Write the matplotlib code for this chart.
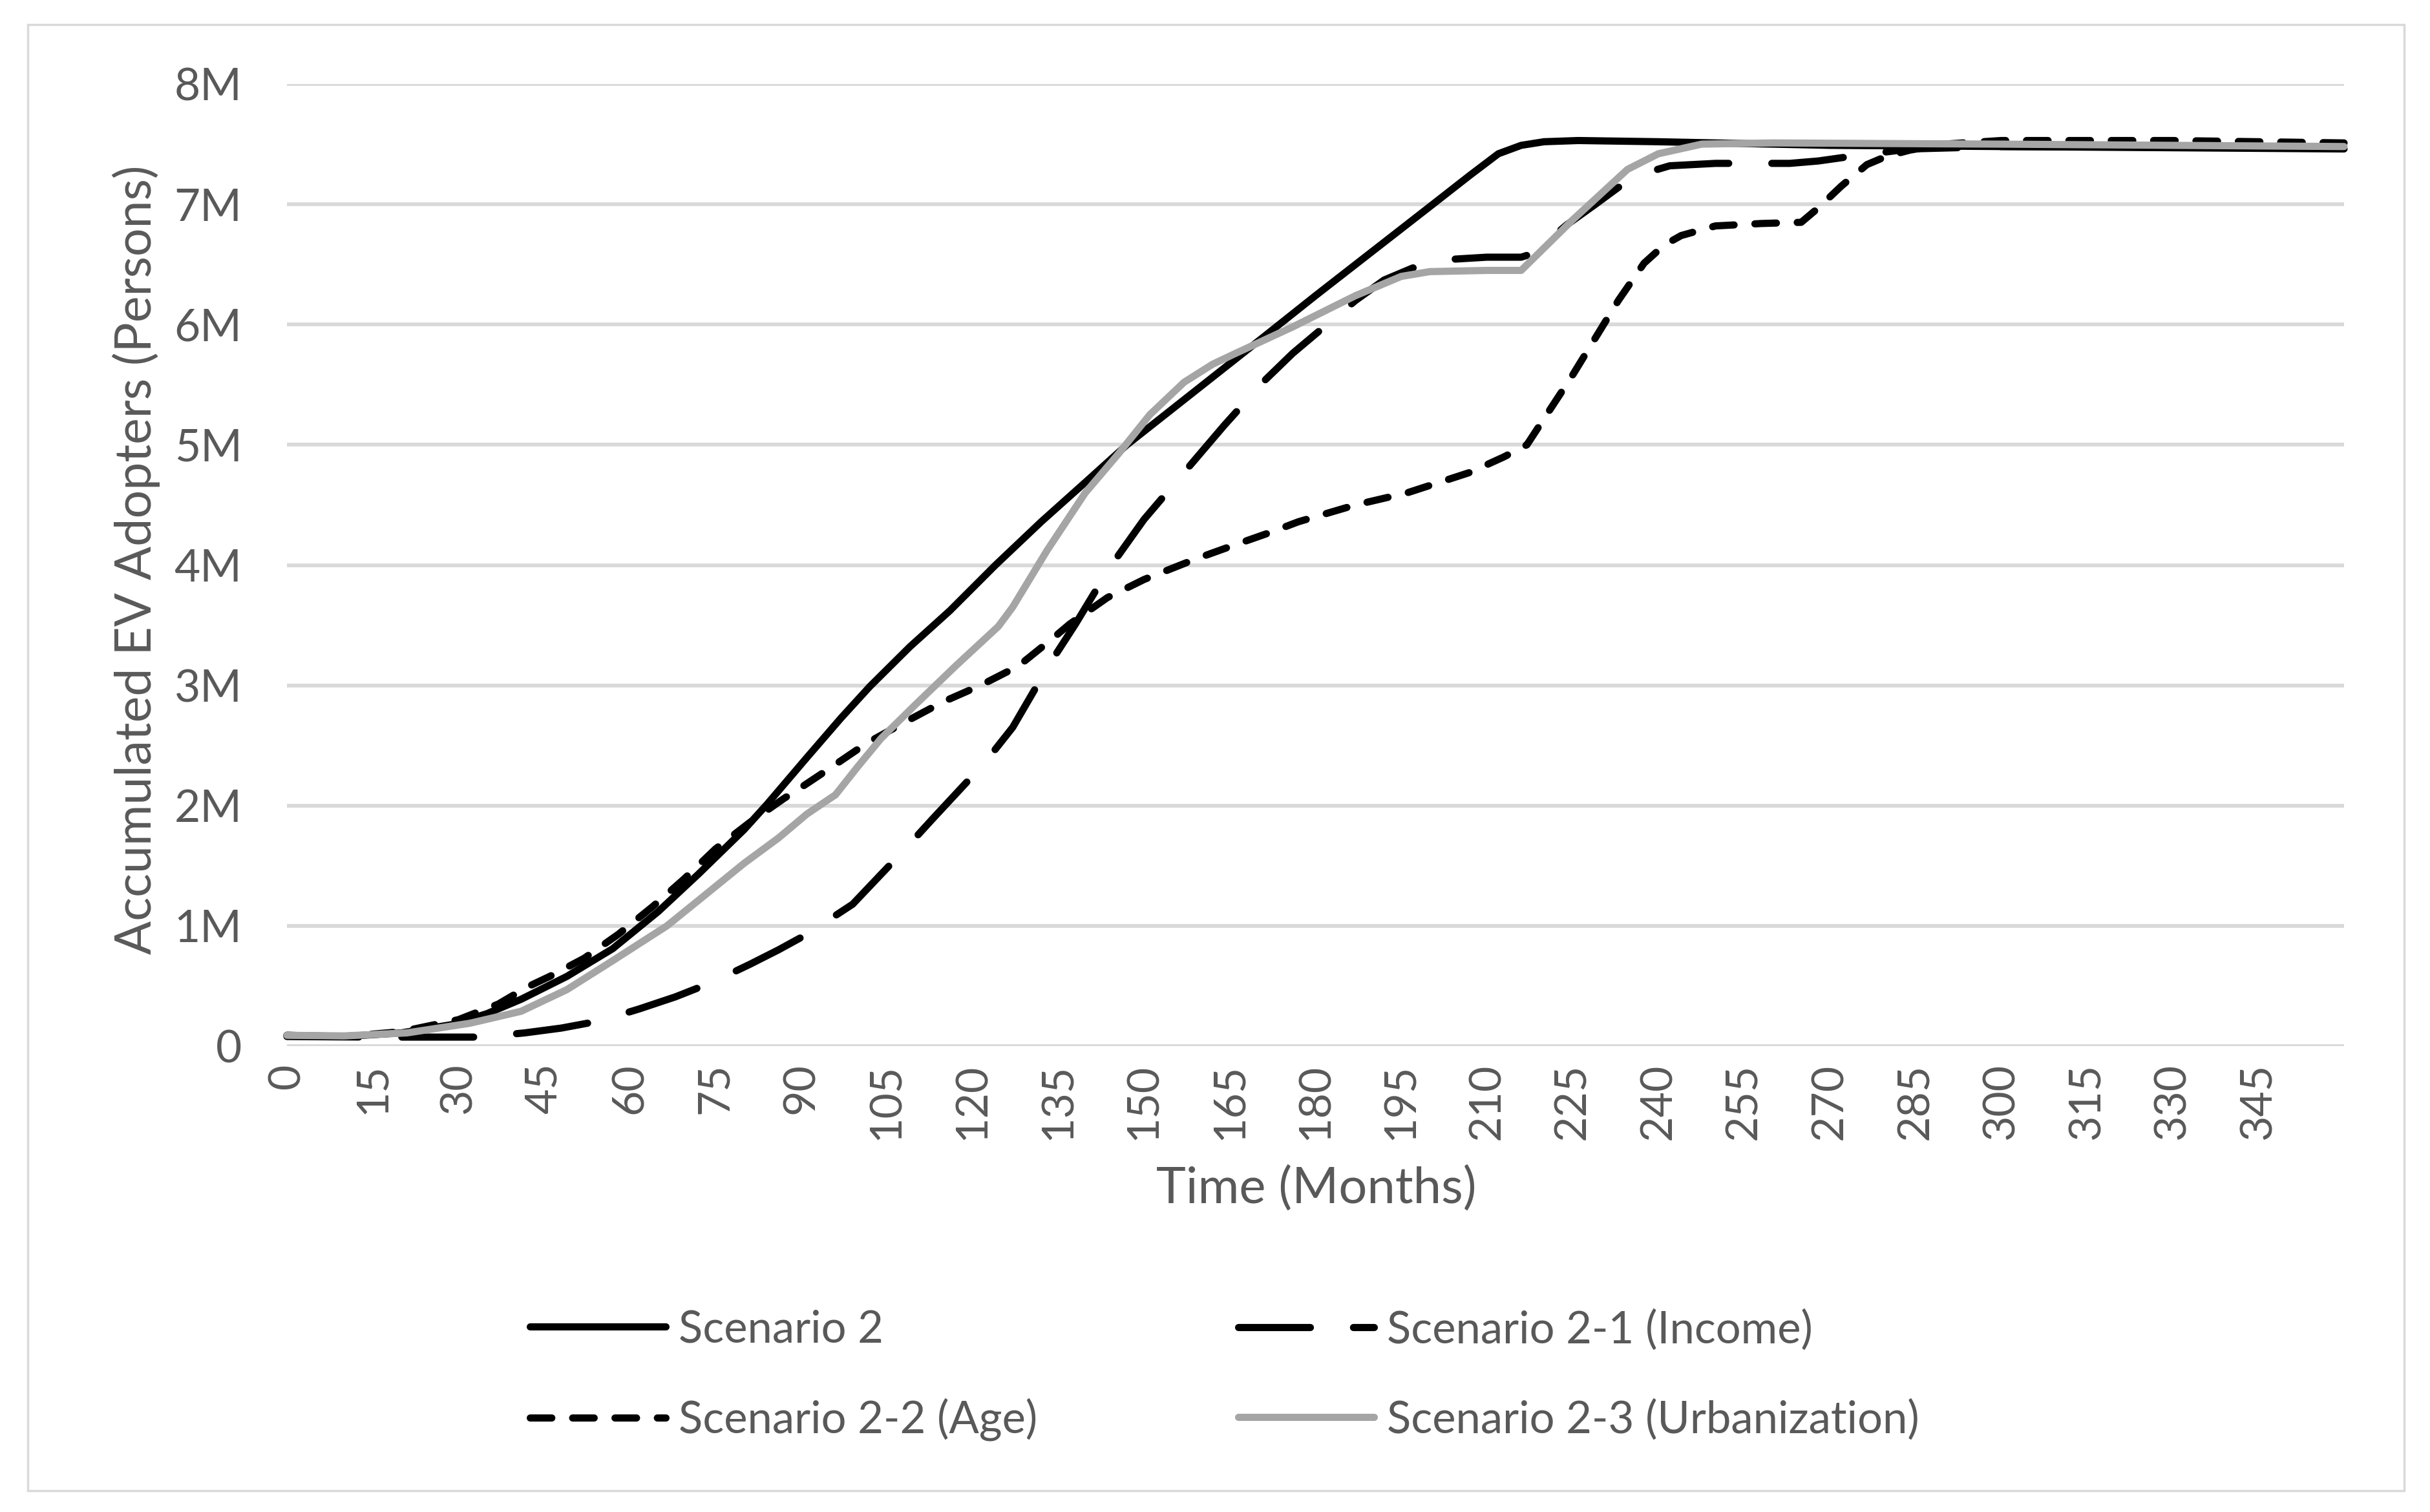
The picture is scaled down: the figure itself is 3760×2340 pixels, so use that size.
import matplotlib
matplotlib.use("Agg")
import matplotlib.pyplot as plt
from matplotlib.lines import Line2D
from matplotlib.patches import Rectangle

plt.rcParams['font.family'] = ['Lato', 'DejaVu Sans']

# ---------------- data (months, millions of persons) ----------------
s2_months = [0, 10, 20, 29, 35, 41, 49, 57, 65, 72, 80, 84, 91, 97, 102, 109,
             116, 124, 132, 140, 147, 155, 163, 171, 180, 190, 200, 207, 212,
             216, 220, 226, 240, 270, 300, 330, 360]
s2_values = [0.09, 0.08, 0.11, 0.18, 0.27, 0.39, 0.58, 0.81, 1.12, 1.43, 1.80,
             2.01, 2.40, 2.73, 2.99, 3.32, 3.62, 4.00, 4.36, 4.70, 5.00, 5.30,
             5.60, 5.90, 6.24, 6.61, 6.98, 7.24, 7.42, 7.49, 7.52, 7.53, 7.52,
             7.49, 7.48, 7.47, 7.46]

s21_months = [0, 15, 34, 41.6, 48, 54.8, 61.7, 68, 74.4, 81, 86, 91, 99, 108,
              113, 122, 127, 133.5, 138, 144, 150, 157, 164, 171, 176, 182, 187,
              192, 197, 203, 210, 216, 218, 224, 229, 233, 237, 242, 250, 263,
              268, 274, 279, 284, 300, 360]
s21_values = [0.08, 0.075, 0.075, 0.11, 0.15, 0.21, 0.31, 0.41, 0.53, 0.68,
              0.80, 0.93, 1.18, 1.63, 1.89, 2.35, 2.65, 3.18, 3.51, 3.98, 4.38,
              4.77, 5.16, 5.53, 5.76, 6.00, 6.20, 6.37, 6.47, 6.54, 6.56, 6.56,
              6.59, 6.83, 7.00, 7.14, 7.25, 7.32, 7.34, 7.34, 7.36, 7.40, 7.43,
              7.46, 7.48, 7.47]

s22_months = [0, 10, 20, 30, 37, 42, 46, 52, 58, 64, 69.5, 75, 81, 87, 89, 95,
              101.5, 108, 114.7, 121.4, 128, 134, 137, 143.6, 150, 159, 166,
              172, 177, 187, 196, 207, 213, 217, 221, 225, 229, 233, 237.5, 241,
              244, 250, 258, 265, 268, 272, 276.5, 280, 284, 290, 300, 330, 360]
s22_values = [0.09, 0.08, 0.12, 0.22, 0.35, 0.49, 0.58, 0.73, 0.93, 1.16, 1.39,
              1.64, 1.86, 2.06, 2.12, 2.31, 2.52, 2.69, 2.86, 3.00, 3.16, 3.39,
              3.51, 3.73, 3.88, 4.05, 4.17, 4.27, 4.36, 4.50, 4.60, 4.77, 4.90,
              5.00, 5.29, 5.58, 5.89, 6.20, 6.51, 6.66, 6.74, 6.82, 6.84, 6.85,
              6.97, 7.15, 7.33, 7.40, 7.45, 7.50, 7.53, 7.53, 7.51]

s23_months = [0, 10, 21, 32, 41, 49, 57, 66.5, 73, 80, 86, 91, 96, 100, 104,
              110, 117, 124.5, 127, 133, 139.7, 145.6, 151, 157, 162, 166, 176,
              187, 195, 200, 210, 216, 225, 234.6, 240, 247.6, 260, 300, 360]
s23_values = [0.09, 0.085, 0.11, 0.19, 0.29, 0.47, 0.71, 1.00, 1.25, 1.52, 1.73,
              1.93, 2.09, 2.33, 2.56, 2.84, 3.16, 3.49, 3.65, 4.12, 4.60, 4.93,
              5.25, 5.52, 5.67, 5.76, 5.98, 6.24, 6.40, 6.44, 6.45, 6.45, 6.87,
              7.29, 7.42, 7.50, 7.51, 7.50, 7.48]

series_labels = ["Scenario 2", "Scenario 2-1 (Income)",
                 "Scenario 2-2 (Age)", "Scenario 2-3 (Urbanization)"]

y_ticks = [0, 1, 2, 3, 4, 5, 6, 7, 8]
y_tick_labels = ["0", "1M", "2M", "3M", "4M", "5M", "6M", "7M", "8M"]
x_ticks = [0, 15, 30, 45, 60, 75, 90, 105, 120, 135, 150, 165, 180, 195, 210,
           225, 240, 255, 270, 285, 300, 315, 330, 345]
x_tick_labels = ["0", "15", "30", "45", "60", "75", "90", "105", "120", "135",
                 "150", "165", "180", "195", "210", "225", "240", "255", "270",
                 "285", "300", "315", "330", "345"]

# ---------------- figure ----------------
W, H = 3760, 2340
fig = plt.figure(figsize=(W / 100, H / 100), dpi=100)
fig.patch.set_facecolor('white')

ax_l, ax_r, ax_t, ax_b = 444, 3627, 130, 1619
ax = fig.add_axes([ax_l / W, 1 - ax_b / H, (ax_r - ax_l) / W, (ax_b - ax_t) / H])
ax.set_xlim(0, 360)
ax.set_ylim(0, 8)
for sp in ax.spines.values():
    sp.set_visible(False)

TXT = '#595959'
LW = 8.0
ax.set_yticks(y_ticks)
ax.set_yticklabels(y_tick_labels, fontsize=50, color=TXT)
ax.set_xticks(x_ticks)
ax.set_xticklabels(x_tick_labels, fontsize=49, color=TXT, rotation=90)
ax.tick_params(axis='y', length=0, pad=50)
ax.tick_params(axis='x', length=0, pad=19)
ax.yaxis.grid(True, color='#D9D9D9', lw=4.2)
ax.xaxis.grid(False)
ax.set_axisbelow(True)

common = dict(lw=LW, solid_capstyle='round', solid_joinstyle='round',
              dash_capstyle='round', dash_joinstyle='round', clip_on=False)
style_s2 = dict(color='black', **common)
style_s21 = dict(color='black', dashes=(10.0, 6.0), **common)
style_s22 = dict(color='black', dashes=(3.0, 2.9), **common)
style_s23 = dict(color='#A5A5A5', **common)

ax.plot(s2_months, s2_values, zorder=3, **style_s2)
ax.plot(s21_months, s21_values, zorder=4, **style_s21)
ax.plot(s22_months, s22_values, zorder=5, **style_s22)
ax.plot(s23_months, s23_values, zorder=6, **style_s23)

# axis titles
fig.text(211 / W, 1 - 866 / H, "Accumulated EV Adopters (Persons)", rotation=90,
         ha='center', va='center', fontsize=55.5, color=TXT)
fig.text(2037 / W, 1 - 1840 / H, "Time (Months)", ha='center', va='center',
         fontsize=56, color=TXT)

# legend (2 x 2)
handles = [Line2D([], [], **style_s2), Line2D([], [], **style_s21),
           Line2D([], [], **style_s22), Line2D([], [], **style_s23)]
positions = [(820, 2058), (1916, 2058), (820, 2197), (1916, 2197)]
for h, lab, (px, py) in zip(handles, series_labels, positions):
    leg = fig.legend([h], [lab], loc='center left',
                     bbox_to_anchor=(px / W, 1 - py / H),
                     bbox_transform=fig.transFigure, frameon=False,
                     fontsize=49.5, handlelength=3.05, handletextpad=0.3,
                     borderpad=0, borderaxespad=0, labelcolor=TXT)

# outer chart border
fig.add_artist(Rectangle((43 / W, 1 - 2307 / H), (3720 - 43) / W, (2307 - 38) / H,
                         transform=fig.transFigure, fill=False,
                         edgecolor='#D9D9D9', lw=2.5))

fig.savefig('out.png', dpi=100, facecolor='white')
